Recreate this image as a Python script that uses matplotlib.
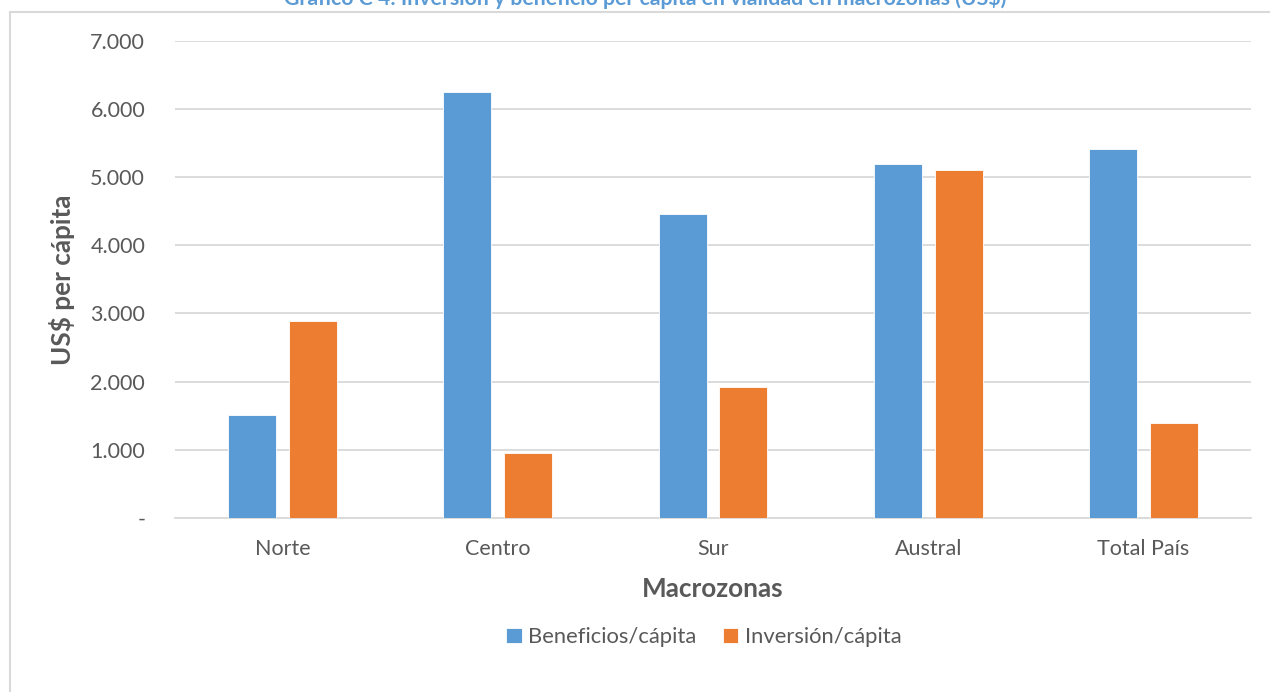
import matplotlib.pyplot as plt
import numpy as np
from matplotlib.patches import Rectangle
from matplotlib.ticker import FuncFormatter

plt.rcParams["font.family"] = ["Lato", "DejaVu Sans"]

zonas = ["Norte", "Centro", "Sur", "Austral", "Total País"]
beneficios = [1508, 6255, 4455, 5194, 5419]
inversion = [2884, 946, 1920, 5110, 1395]

blue = "#5B9BD5"
orange = "#ED7D31"
grey_text = "#595959"
grid = "#D9D9D9"

fig = plt.figure(figsize=(12.7, 6.92), dpi=100)
ax = fig.add_axes([175 / 1270, 1 - 517.7 / 692, (1251 - 175) / 1270, (517.7 - 41) / 692])

x = np.arange(len(zonas))
w = 0.223
off = 0.1415
ax.bar(x - off, beneficios, w, color=blue, edgecolor="white", lw=0.6, label="Beneficios/cápita", zorder=3)
ax.bar(x + off, inversion, w, color=orange, edgecolor="white", lw=0.6, label="Inversión/cápita", zorder=3)

ax.set_xlim(-0.5, len(zonas) - 0.5)
ax.set_ylim(0, 7000)
ax.set_yticks(range(0, 7001, 1000))
ax.yaxis.set_major_formatter(FuncFormatter(lambda v, p: "-" if v == 0 else f"{v:,.0f}".replace(",", ".")))
ax.set_xticks(x)
ax.set_xticklabels(zonas)
ax.tick_params(length=0, labelsize=15.5, colors=grey_text)
ax.tick_params(axis="y", pad=21.5)
ax.tick_params(axis="x", pad=15)
ax.grid(axis="y", color=grid, lw=1.3, zorder=0)
for s in ["left", "right", "top"]:
    ax.spines[s].set_visible(False)
ax.spines["bottom"].set_color(grid)
ax.spines["bottom"].set_linewidth(1.3)

ax.set_ylabel("US$ per cápita", fontsize=18.8, fontweight="bold", color=grey_text, va="center")
ax.yaxis.set_label_coords((62 - 175) / 1076, 0.5)
ax.set_xlabel("Macrozonas", fontsize=18.8, fontweight="bold", color=grey_text, va="center")
ax.xaxis.set_label_coords(0.5, (517.7 - 589) / 476.7)

ax.legend(loc="center", bbox_to_anchor=(704 / 1270, 1 - 637 / 692), bbox_transform=fig.transFigure,
          ncol=2, frameon=False, fontsize=15.8, labelcolor=grey_text, handlelength=0.7, handleheight=0.7,
          handletextpad=0.3, columnspacing=1.2)

# chart frame and title (frame runs off the right and bottom edges)
fig.add_artist(Rectangle((10 / 1270, -0.1), 1.2, 1 - 12 / 692 + 0.1, transform=fig.transFigure,
                         fill=False, edgecolor=grid, lw=1.5))
fig.text(645 / 1270, 1 - 5 / 692, "Gráfico C 4: Inversión y beneficio per cápita en vialidad en macrozonas (US$)",
         ha="center", va="baseline", fontsize=15.3, fontweight="bold", color=blue)

fig.savefig("out.png", dpi=100)
